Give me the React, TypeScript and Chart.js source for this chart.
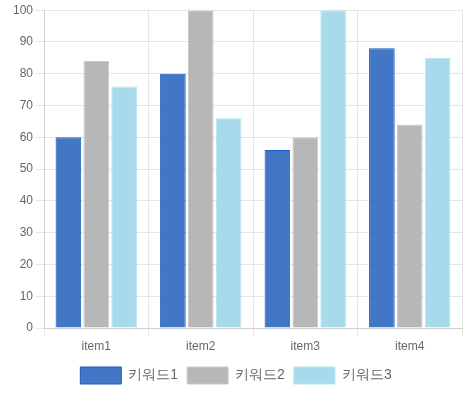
import React, { useEffect, useRef } from "react";
import { Chart, registerables } from "chart.js";

Chart.register(...registerables);

const categories = ["item1", "item2", "item3", "item4"];
const seriesNames = ["키워드1", "키워드2", "키워드3"];
const series1 = [60, 80, 56, 88];
const series2 = [84, 100, 60, 64];
const series3 = [76, 66, 100, 85];

export default function App() {
  const ref = useRef<HTMLCanvasElement>(null);
  useEffect(() => {
    document.body.style.margin = "0";
    const ctx = ref.current!;
    const font = "'Liberation Sans', Arial, Helvetica, sans-serif";
    const chart = new Chart(ctx, {
      type: "bar",
      data: {
        labels: categories,
        datasets: [
          { label: seriesNames[0], data: series1, backgroundColor: "rgba(44,104,190,0.9)", borderColor: "#1c5cc0", borderWidth: 1 },
          { label: seriesNames[1], data: series2, backgroundColor: "#b7b7b7", borderColor: "#cacaca", borderWidth: 1 },
          { label: seriesNames[2], data: series3, backgroundColor: "#a7dbeb", borderColor: "#b8e3f0", borderWidth: 1 },
        ],
      },
      options: {
        responsive: false,
        animation: false,
        maintainAspectRatio: false,
        layout: { padding: { top: 4, right: 10, left: 10, bottom: 9 } },
        datasets: { bar: { barPercentage: 0.92, categoryPercentage: 0.8 } },
        scales: {
          x: {
            grid: { color: "#e6e6e6" },
            border: { color: "#d0d0d0" },
            ticks: { color: "#666", font: { family: font, size: 12, lineHeight: 1 }, padding: 5 },
          },
          y: {
            min: 0,
            max: 100,
            grid: { color: "#e6e6e6" },
            border: { color: "#d0d0d0" },
            ticks: { stepSize: 10, color: "#666", font: { family: font, size: 12 } },
          },
        },
        plugins: {
          legend: {
            position: "bottom",
            labels: { color: "#666", font: { family: font, size: 14 }, boxWidth: 41, boxHeight: 17, padding: 9 },
          },
          tooltip: { enabled: false },
        },
      },
    });
    return () => chart.destroy();
  }, []);
  return (
    <div style={{ width: 472, height: 403 }}>
      <canvas ref={ref} width={472} height={403} />
    </div>
  );
}
